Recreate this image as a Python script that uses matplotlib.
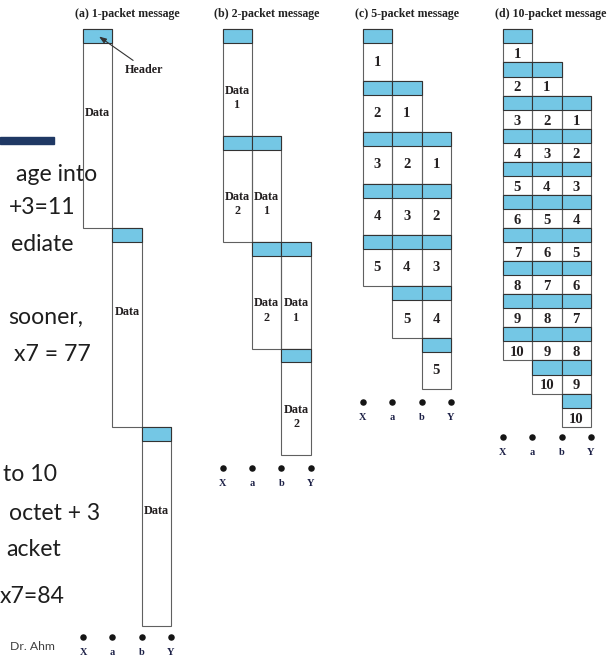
import matplotlib
matplotlib.use('Agg')
import matplotlib.pyplot as plt
from matplotlib.patches import Rectangle

W, H = 609, 661

# ---- data ----
titles = ['(a) 1-packet message', '(b) 2-packet message',
          '(c) 5-packet message', '(d) 10-packet message']
packets = [1, 2, 5, 10]
header_octets = 3
message_octets = 40
nodes = ['X', 'a', 'b', 'Y']
slide_lines = ['age into', '+3=11', 'ediate', 'sooner,', 'x7 = 77',
               'to 10', 'octet + 3', 'acket', 'x7=84']
footer = 'Dr. Ahm'

# ---- layout (pixels) ----
left_px = [83, 222.7, 362.7, 502.7]
unit_px = [29.33, 29.33, 29.43, 29.43]
scale_px = [4.623, 4.627, 4.675, 4.73]
top_px = 29.3
dot_gap = [11, 13.3, 12.4, 10]
label_frac = [0.38, 0.59, 0.5, 0.6]
title_cx = [127, 267, 407, 551]
slide_right = [97, 76, 73, 83, 91, 57, 100, 61, 65]
slide_base = [181, 214, 251, 324, 361, 481, 520, 556, 603]

BLUE = '#74C7E5'
EDGE = '#606060'
HEDGE = '#333333'
TXT = '#231f20'
SERIF = 'Liberation Serif'

fig = plt.figure(figsize=(W / 100, H / 100), dpi=100)
fig.patch.set_facecolor('white')

bg = fig.add_axes([0, 0, 1, 1])
bg.set_xlim(0, W)
bg.set_ylim(H, 0)
bg.axis('off')
bg.add_patch(Rectangle((0, 136.5), 54, 7.5, color='#1F3864'))
for s, x, y in zip(slide_lines, slide_right, slide_base):
    bg.text(x, y, s, ha='right', va='baseline', fontsize=16.6, family='Lato',
            color='#1e1e1e')
bg.text(10, 650, footer, ha='left', va='baseline', fontsize=8.8, family='Lato',
        color='#404040')

for i, n in enumerate(packets):
    d = message_octets / n
    L = header_octets + d
    T = (n + 2) * L
    sc = scale_px[i]
    ax = fig.add_axes([left_px[i] / W, 1 - (top_px + T * sc) / H,
                       3 * unit_px[i] / W, T * sc / H])
    ax.set_xlim(0, 3)
    ax.set_ylim(T, 0)
    ax.axis('off')
    for link in range(3):
        for k in range(n):
            t0 = (k + link) * L
            ax.add_patch(Rectangle((link, t0), 1, L, fill=False, ec=EDGE,
                                   lw=0.8, clip_on=False, zorder=2))
            ax.add_patch(Rectangle((link, t0), 1, header_octets, fc=BLUE,
                                   ec=HEDGE, lw=0.8, clip_on=False, zorder=3))
            if n == 1:
                lab, fs = 'Data', 8.7
            elif n == 2:
                lab, fs = 'Data\n%d' % (k + 1), 8.7
            else:
                lab, fs = str(k + 1), 10.5
            ax.text(link + 0.5, t0 + header_octets + label_frac[i] * d, lab,
                    ha='center', va='center', fontsize=fs, family=SERIF,
                    fontweight='bold', color=TXT, linespacing=1.25,
                    clip_on=False, zorder=4)
    ydot = T + dot_gap[i] / sc
    ax.scatter(range(4), [ydot] * 4, s=22, color='#151515', clip_on=False,
               zorder=5, linewidths=0)
    for j, nm in enumerate(nodes):
        ax.annotate(nm, xy=(j, ydot), xytext=(0, -15.5),
                    textcoords='offset pixels', ha='center', va='center',
                    fontsize=7.4, family=SERIF, fontweight='bold',
                    color='#1c2046', annotation_clip=False)
    ax.annotate(titles[i], xy=((title_cx[i] - left_px[i]) / unit_px[i], 0),
                xytext=(0, 15.3), textcoords='offset pixels', ha='center',
                va='center', fontsize=8.6, family=SERIF, fontweight='bold',
                color='#222222', annotation_clip=False)
    if i == 0:
        tip = ((99 - left_px[0]) / unit_px[0], (36.5 - top_px) / sc)
        txt = ((144 - left_px[0]) / unit_px[0], (70 - top_px) / sc)
        ax.annotate('Header', xy=tip, xytext=txt, ha='center', va='center',
                    fontsize=8.7, family=SERIF, fontweight='bold', color=TXT,
                    annotation_clip=False, zorder=6,
                    arrowprops=dict(arrowstyle='-|>,head_length=0.5,head_width=0.18',
                                    color='#333333', lw=0.8,
                                    relpos=(0.35, 1.0), shrinkA=1, shrinkB=0))

fig.savefig('out.png', dpi=100)
